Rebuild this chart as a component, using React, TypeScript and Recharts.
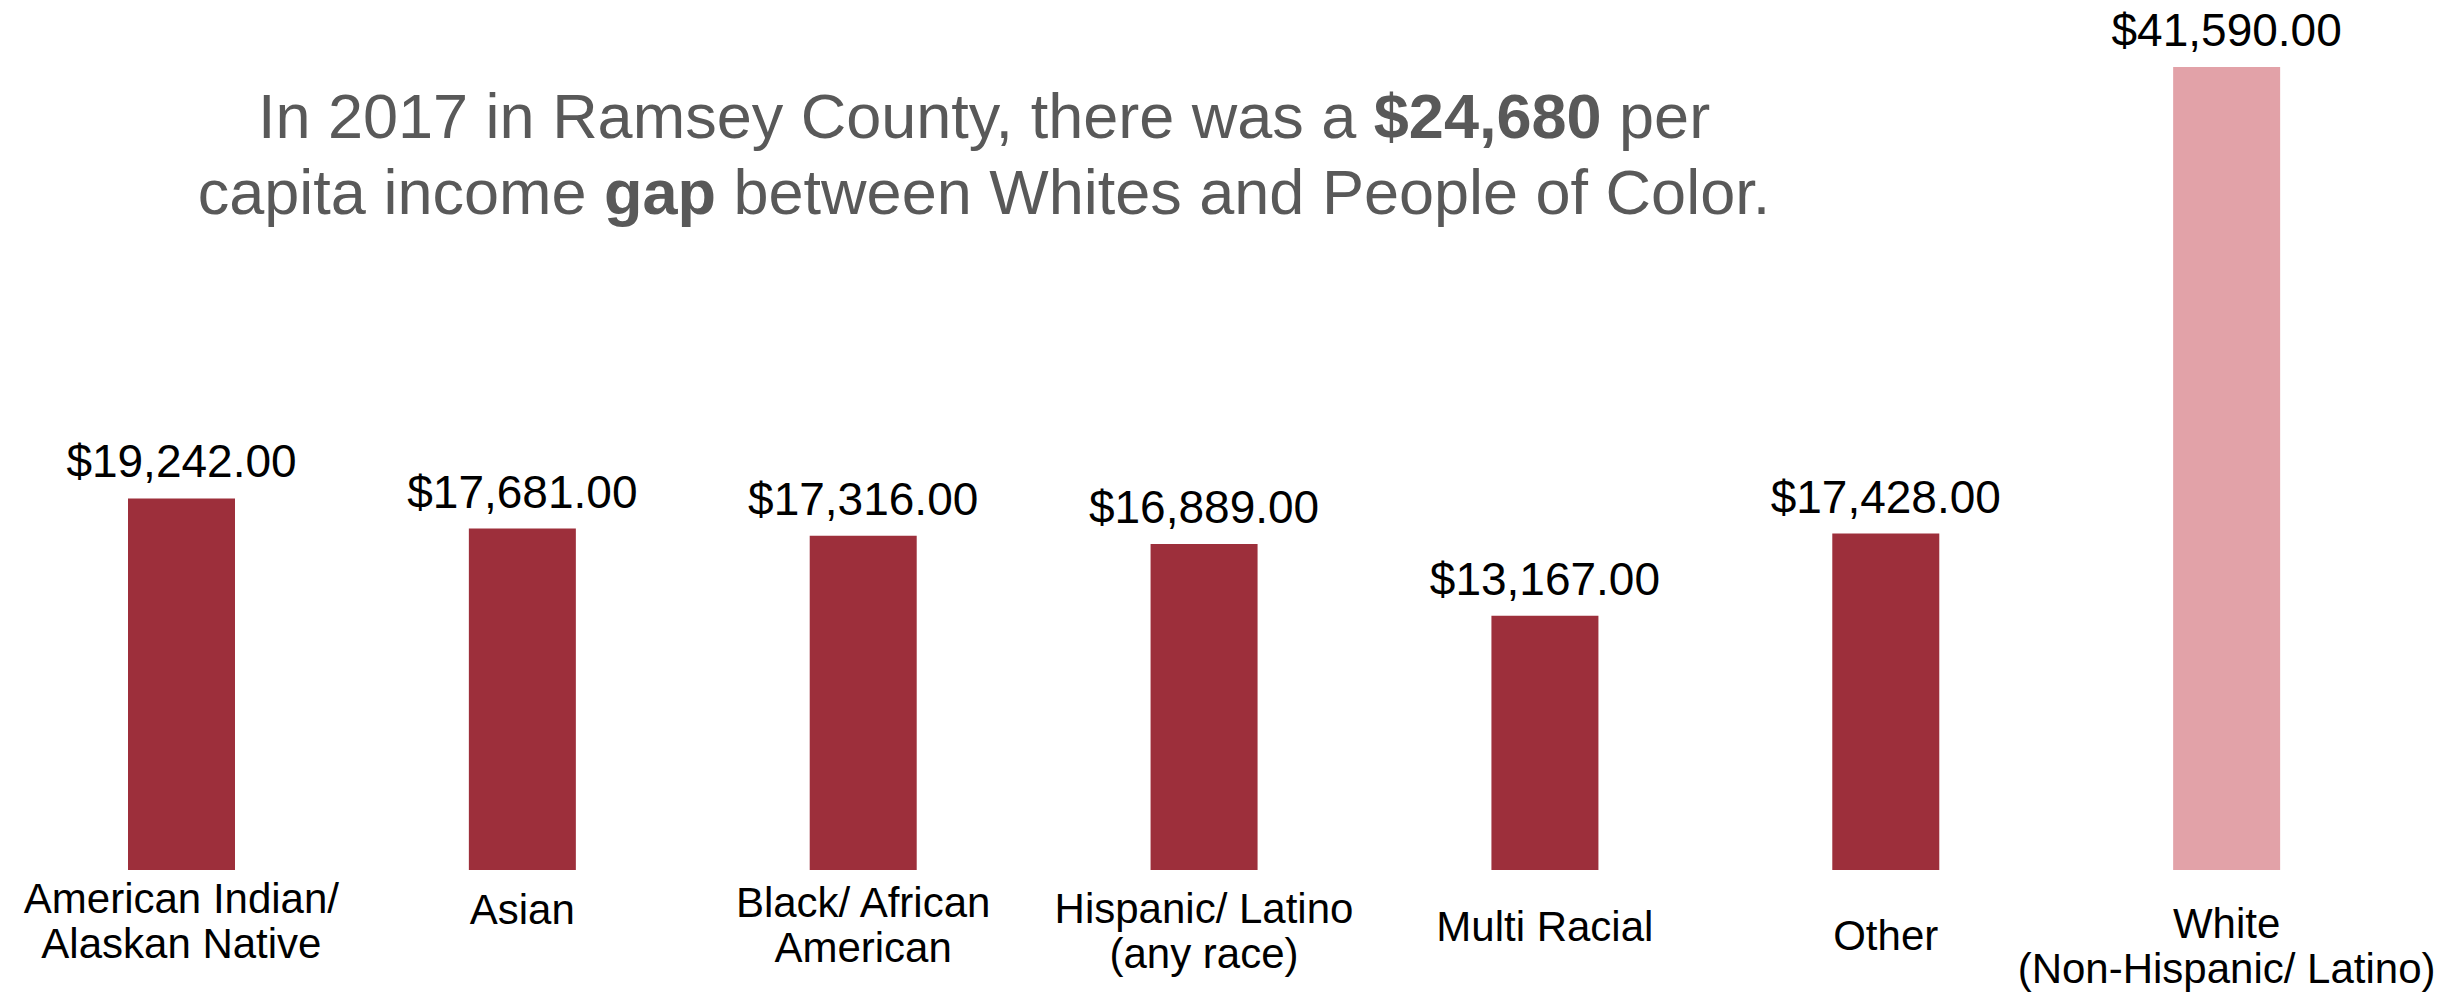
import { Bar, BarChart, Cell, LabelList, XAxis, YAxis } from 'recharts'

const CATEGORIES = [
  'American Indian/\nAlaskan Native',
  'Asian',
  'Black/ African\nAmerican',
  'Hispanic/ Latino\n(any race)',
  'Multi Racial',
  'Other',
  'White\n(Non-Hispanic/ Latino)',
]
const INCOME = [19242, 17681, 17316, 16889, 13167, 17428, 41590]
const Y_DOMAIN = [0, 41590]

const DARK = '#9d2f3b'
const LIGHT = '#e2a2a8'
const FONT = "'Liberation Sans', Arial, sans-serif"

// the source labels sit at uneven heights under the bars
const TICK_DY = [43, 54, 47, 53, 71, 80, 68]

const rows = CATEGORIES.map((name, i) => ({ name, value: INCOME[i] }))

const money = (v: number) =>
  '$' + v.toLocaleString('en-US', { minimumFractionDigits: 2, maximumFractionDigits: 2 })

function CategoryTick(props: any) {
  const { x, y, payload, index } = props
  const lines = String(payload.value).split('\n')
  return (
    <text
      x={x}
      y={y + TICK_DY[index]}
      textAnchor="middle"
      fill="#000"
      fontSize={42}
      fontFamily={FONT}
    >
      {lines.map((line, i) => (
        <tspan key={line} x={x} dy={i === 0 ? 0 : 45}>
          {line}
        </tspan>
      ))}
    </text>
  )
}

export default function App() {
  return (
    <div style={{ position: 'absolute', left: 0, top: 0, width: 2451, height: 995, background: '#fff' }}>
      <BarChart
        width={2451}
        height={995}
        data={rows}
        margin={{ top: 67, right: 54, left: 11, bottom: 0 }}
      >
        <XAxis
          dataKey="name"
          axisLine={false}
          tickLine={false}
          tickSize={0}
          tickMargin={0}
          height={125}
          interval={0}
          tick={<CategoryTick />}
        />
        <YAxis hide domain={Y_DOMAIN} />
        <Bar dataKey="value" barSize={107} isAnimationActive={false}>
          {rows.map((row) => (
            <Cell key={row.name} fill={row.name.startsWith('White') ? LIGHT : DARK} />
          ))}
          <LabelList
            dataKey="value"
            position="top"
            offset={21}
            formatter={(v: any) => money(Number(v))}
            style={{ fontSize: 46, fill: '#000', fontFamily: FONT }}
          />
        </Bar>
      </BarChart>
      <div
        style={{
          position: 'absolute',
          left: 184,
          top: 78,
          width: 1600,
          textAlign: 'center',
          fontFamily: FONT,
          fontSize: 63,
          lineHeight: '76px',
          color: '#595959',
        }}
      >
        In 2017 in Ramsey County, there was a <b>$24,680</b> per
        <br />
        capita income <b>gap</b> between Whites and People of Color.
      </div>
    </div>
  )
}
